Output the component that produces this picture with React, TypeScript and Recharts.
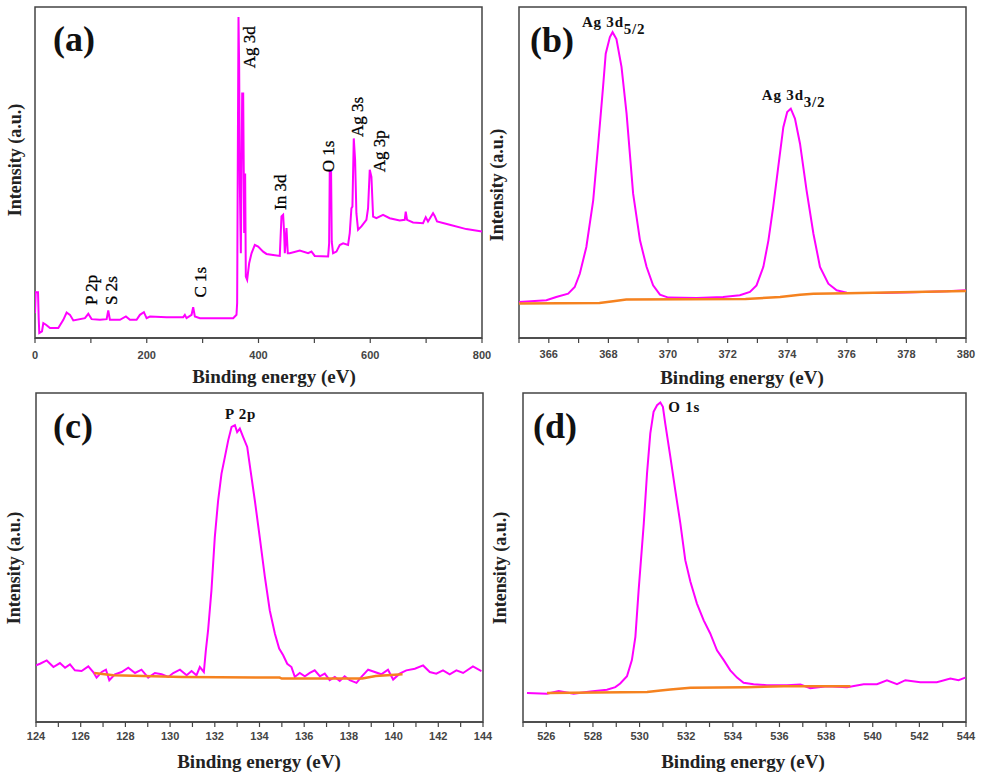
import React from 'react';
import { LineChart, Line, XAxis, YAxis, ReferenceArea, ReferenceDot } from 'recharts';

// ---------- (a) survey spectrum ----------
const surveyEnergy = [
  0, 1.2, 5.4, 6.6, 7.7, 12.5, 14.9, 19.7, 26.8, 41.7, 50.7, 56.6, 62.6, 68.6, 89.4, 95.4,
  101.3, 116.2, 128.2, 131.1, 134.1, 152.0, 162.7, 169.9, 181.8, 187.8, 194.9, 199.7, 205.7,
  235.5, 265.3, 268.2, 271.2, 280.2, 283.1, 286.1, 295.1, 354.7, 360.6, 361.8, 363.0, 364.2,
  365.4, 366.6, 368.4, 370.8, 372.6, 374.4, 376.1, 377.3, 379.7, 383.3, 387.5, 393.4, 399.4,
  408.3, 414.3, 426.2, 438.1, 441.1, 444.1, 445.9, 447.1, 450.1, 452.4, 456.0, 473.9, 488.8,
  494.8, 500.7, 524.6, 526.4, 527.5, 529.9, 531.1, 533.5, 539.5, 545.4, 551.4, 560.3, 563.3,
  566.3, 568.1, 570.5, 572.9, 575.2, 578.2, 584.2, 593.1, 596.1, 599.1, 602.1, 605.1, 611.0,
  622.9, 634.8, 652.7, 661.7, 663.5, 665.9, 676.6, 694.5, 699.3, 703.4, 712.4, 715.3, 719.5,
  742.2, 772.0, 800,
];
const surveyIntensity = [
  7.5, 13.8, 13.8, 6.0, 1.5, 2.0, 4.5, 4.0, 3.0, 3.0, 5.5, 7.7, 7.0, 5.3, 6.0, 7.3,
  5.7, 5.5, 5.7, 8.3, 5.5, 5.5, 6.5, 5.5, 5.5, 7.0, 7.8, 6.0, 6.5,
  6.3, 6.3, 7.0, 6.0, 7.0, 9.3, 6.5, 6.0, 6.0, 7.0, 10.6, 55.8, 97.0,
  81.9, 46.7, 25.6, 73.9, 73.9, 31.7, 49.7, 18.6, 17.6, 22.6, 25.6, 28.1, 27.6,
  26.1, 25.4, 25.1, 24.8, 36.7, 37.2, 31.7, 25.6, 33.2, 25.6, 25.6, 26.4, 25.6,
  26.1, 24.8, 24.6, 28.6, 50.3, 50.3, 29.1, 25.6, 26.1, 28.1, 28.6, 28.1, 31.7,
  39.2, 39.7, 60.3, 53.8, 37.7, 32.7, 33.7, 35.7, 39.2, 50.8, 48.7, 36.7, 36.2,
  37.2, 36.2, 35.5, 35.7, 38.2, 35.7, 34.9, 34.7, 36.5, 35.2, 37.7, 36.9, 35.2,
  34.2, 32.9, 32.2,
];
const surveyTicks = [0, 100, 200, 300, 400, 500, 600, 700, 800];
const surveyPeaks = [
  { name: 'P 2p', e: 111, v: 10.0 },
  { name: 'S 2s', e: 146.8, v: 10.0 },
  { name: 'C 1s', e: 306, v: 12.2 },
  { name: 'Ag 3d', e: 393.7, v: 81.5 },
  { name: 'In 3d', e: 449, v: 38.7 },
  { name: 'O 1s', e: 535, v: 50.1 },
  { name: 'Ag 3s', e: 587, v: 60.7 },
  { name: 'Ag 3p', e: 626, v: 50.1 },
];

// ---------- (b) Ag 3d ----------
const agEnergy = [
  365.0, 365.92, 366.25, 366.65, 366.87, 367.04, 367.26, 367.49, 367.65, 367.82, 367.91, 368.05,
  368.14, 368.27, 368.44, 368.61, 368.83, 369.06, 369.28, 369.5, 369.73, 370.01, 370.96, 371.85,
  372.41, 372.75, 372.97, 373.2, 373.37, 373.53, 373.7, 373.87, 374.0, 374.12, 374.26, 374.43,
  374.65, 374.88, 375.1, 375.38, 375.66, 376.0, 377.12, 378.24, 379.36, 380.0,
];
const agIntensity = [
  10.9, 11.4, 12.4, 13.4, 15.4, 19.4, 27.5, 41.6, 57.7, 75.8, 85.9, 90.9,
  92.4, 90.3, 81.9, 67.8, 43.6, 29.5, 21.5, 15.9, 13.1, 12.2, 12.1, 12.4,
  12.9, 13.9, 15.9, 21.5, 29.5, 39.6, 51.7, 63.7, 68.3, 69.3, 66.3, 58.7,
  44.6, 31.5, 21.5, 16.4, 14.4, 13.7, 13.6, 13.8, 14.1, 14.4,
];
const agBgEnergy = [365, 367.7, 368.16, 368.6, 372.6, 373.76, 374.43, 374.88, 376, 380];
const agBgIntensity = [10.4, 10.6, 11.1, 11.6, 11.8, 12.4, 13.1, 13.4, 13.5, 14.2];
const agTicks = [365, 366, 367, 368, 369, 370, 371, 372, 373, 374, 375, 376, 377, 378, 379, 380];

// ---------- (c) P 2p ----------
const pEnergy = [
  124.0, 124.18, 124.48, 124.78, 125.07, 125.3, 125.52, 125.74, 126.04, 126.34, 126.56, 126.71,
  126.94, 127.13, 127.28, 127.53, 127.83, 128.13, 128.43, 128.72, 129.02, 129.32, 129.62, 129.92,
  130.14, 130.44, 130.74, 130.96, 131.18, 131.33, 131.51, 131.6, 131.7, 131.85, 132.0, 132.15,
  132.3, 132.45, 132.6, 132.75, 132.9, 133.0, 133.12, 133.27, 133.45, 133.6, 133.79, 134.01,
  134.24, 134.46, 134.69, 134.88, 135.06, 135.24, 135.43, 135.58, 135.8, 136.03, 136.25, 136.47,
  136.7, 136.92, 137.14, 137.37, 137.59, 137.81, 138.04, 138.34, 138.56, 138.86, 139.16, 139.45,
  139.75, 139.98, 140.27, 140.57, 140.95, 141.32, 141.62, 141.91, 142.21, 142.51, 142.81, 143.11,
  143.55, 143.93,
];
const pIntensity = [
  17.2, 17.7, 18.7, 16.7, 17.9, 16.5, 17.5, 15.7, 15.5, 16.9, 15.2, 13.5,
  15.2, 15.9, 12.7, 14.5, 15.2, 16.5, 14.9, 15.9, 13.5, 14.9, 14.5, 13.7,
  14.9, 15.9, 14.2, 15.5, 14.2, 16.7, 15.2, 21.8, 27.9, 40.0, 56.2, 67.4,
  75.5, 80.5, 85.6, 89.7, 90.2, 88.1, 89.2, 86.6, 83.6, 76.4, 67.4, 56.2,
  44.1, 33.9, 26.8, 22.3, 20.3, 17.7, 16.7, 13.7, 14.9, 13.9, 14.9, 15.7,
  13.9, 14.7, 12.7, 13.7, 12.5, 13.9, 12.7, 11.9, 13.7, 15.9, 15.2, 14.5,
  15.9, 12.9, 14.7, 15.7, 16.2, 17.2, 15.2, 14.7, 15.7, 14.5, 15.7, 14.9,
  16.9, 15.5,
];
const pBgEnergy = [126.6, 127.46, 130.56, 134.9, 135.0, 138.6, 139.2, 140.4];
const pBgIntensity = [14.9, 14.2, 13.7, 13.5, 13.2, 13.2, 14.0, 14.5];
const pTicks = [124, 125, 126, 127, 128, 129, 130, 131, 132, 133, 134, 135, 136, 137, 138, 139, 140, 141, 142, 143, 144];

// ---------- (d) O 1s ----------
const oEnergy = [
  525.17, 526.03, 526.53, 527.17, 527.89, 528.6, 528.96, 529.17, 529.46, 529.67, 529.82, 529.96,
  530.18, 530.32, 530.46, 530.6, 530.75, 530.89, 531.0, 531.1, 531.32, 531.53, 531.75, 531.96,
  532.18, 532.46, 532.75, 533.03, 533.32, 533.61, 533.89, 534.18, 534.46, 534.89, 535.46, 536.32,
  536.9, 537.32, 538.04, 538.9, 539.61, 540.18, 540.61, 541.04, 541.4, 542.04, 542.75, 543.33,
  543.68, 543.97,
];
const oIntensity = [
  8.8, 8.6, 9.4, 8.6, 9.3, 9.8, 10.6, 11.7, 13.9, 18.8, 25.9, 40.1,
  60.3, 75.6, 87.7, 94.3, 96.3, 97.1, 95.8, 90.8, 80.6, 70.5, 60.3, 49.2,
  42.6, 36.0, 30.9, 26.9, 21.8, 18.8, 15.7, 13.5, 11.9, 11.5, 11.2, 11.2,
  11.4, 10.3, 10.9, 10.6, 11.5, 11.5, 12.7, 11.5, 12.7, 12.1, 12.1, 13.2,
  12.7, 13.5,
];
const oBgEnergy = [526.03, 530.32, 530.9, 531.32, 532.18, 534.6, 536.18, 539.04];
const oBgIntensity = [8.8, 9.1, 9.6, 9.9, 10.4, 10.6, 10.9, 10.9];
const oTicks = [525, 526, 527, 528, 529, 530, 531, 532, 533, 534, 535, 536, 537, 538, 539, 540, 541, 542, 543, 544];

const zip = (xs: number[], ys: number[]) => xs.map((e, i) => ({ e, v: ys[i] }));

const SPECTRUM = '#ff00ff';
const BASELINE = '#f5821f';
const FRAME = '#444';
const SERIF = '"Liberation Serif", "Times New Roman", serif';
const SANS = '"Liberation Sans", Arial, sans-serif';

const tickStyle = { fontSize: 11, fill: '#444', fontFamily: SANS, fontWeight: 'bold' as const };

// vertical peak tag, reading bottom to top from the anchor point
const VerticalTag = (props: any) => {
  const { viewBox, text } = props;
  if (!viewBox) return null;
  return (
    <text
      transform={`translate(${viewBox.x},${viewBox.y}) rotate(-90)`}
      fontFamily={SERIF}
      fontSize={17}
      fill="#000"
      stroke="#000"
      strokeWidth={0.3}
      textAnchor="start"
    >
      {text}
    </text>
  );
};

// horizontal tag with optional subscript
const PeakTag = (props: any) => {
  const { viewBox, text, sub } = props;
  if (!viewBox) return null;
  return (
    <text
      x={viewBox.x}
      y={viewBox.y}
      fontFamily={SERIF}
      fontSize={15}
      fontWeight="bold"
      fill="#111"
      letterSpacing={0.8}
    >
      {text}
      {sub ? (
        <tspan fontSize={15} dy={7}>
          {sub}
        </tspan>
      ) : null}
    </text>
  );
};

type PanelProps = {
  left: number;
  top: number;
  width: number;
  height: number;
  margin: { top: number; right: number; bottom: number; left: number };
  domain: [number, number];
  ticks: number[];
  showLabel: (v: number) => boolean;
  tickMargin: number;
  spectrum: { e: number; v: number }[];
  baseline?: { e: number; v: number }[];
  children?: React.ReactNode;
};

const Panel = (p: PanelProps) => (
  <div style={{ position: 'absolute', left: p.left, top: p.top }}>
    <LineChart width={p.width} height={p.height} margin={p.margin}>
      <XAxis
        dataKey="e"
        type="number"
        domain={p.domain}
        ticks={p.ticks}
        interval={0}
        allowDataOverflow
        height={40}
        tickSize={5}
        tickMargin={p.tickMargin}
        tickFormatter={(v: number) => (p.showLabel(v) ? String(v) : '')}
        tick={tickStyle}
        axisLine={{ stroke: FRAME, strokeWidth: 1.5 }}
        tickLine={{ stroke: FRAME, strokeWidth: 1.2 }}
      />
      <YAxis type="number" domain={[0, 100]} hide allowDataOverflow />
      <ReferenceArea
        x1={p.domain[0]}
        x2={p.domain[1]}
        y1={0}
        y2={100}
        fill="none"
        fillOpacity={0}
        stroke={FRAME}
        strokeWidth={1.5}
        strokeOpacity={1}
        ifOverflow="visible"
      />
      <Line
        data={p.spectrum}
        dataKey="v"
        type="linear"
        stroke={SPECTRUM}
        strokeWidth={2}
        dot={false}
        isAnimationActive={false}
      />
      {p.baseline ? (
        <Line
          data={p.baseline}
          dataKey="v"
          type="linear"
          stroke={BASELINE}
          strokeWidth={2.5}
          dot={false}
          isAnimationActive={false}
        />
      ) : null}
      {p.children}
    </LineChart>
  </div>
);

const xTitleStyle = {
  fontFamily: SERIF,
  fontSize: 19,
  fontWeight: 'bold' as const,
  fill: '#222',
};
const yTitleStyle = {
  fontFamily: SERIF,
  fontSize: 18,
  fontWeight: 'bold' as const,
  fill: '#222',
};
const letterStyle = {
  fontFamily: SERIF,
  fontSize: 36,
  fontWeight: 'bold' as const,
  fill: '#111',
};

export default function App() {
  return (
    <div
      style={{
        position: 'absolute',
        left: 0,
        top: 0,
        width: 981,
        height: 779,
        background: '#fff',
        overflow: 'hidden',
      }}
    >
      <Panel
        left={0}
        top={0}
        width={500}
        height={390}
        margin={{ top: 7, right: 18, bottom: 12, left: 35 }}
        domain={[0, 800]}
        ticks={surveyTicks}
        showLabel={(v) => v % 200 === 0}
        tickMargin={8}
        spectrum={zip(surveyEnergy, surveyIntensity)}
      >
        {surveyPeaks.map((pk) => (
          <ReferenceDot
            key={pk.name}
            x={pk.e}
            y={pk.v}
            r={0}
            fill="none"
            stroke="none"
            label={<VerticalTag text={pk.name} />}
          />
        ))}
      </Panel>

      <Panel
        left={0}
        top={390}
        width={500}
        height={389}
        margin={{ top: 3, right: 17, bottom: 17, left: 36 }}
        domain={[124, 144]}
        ticks={pTicks}
        showLabel={(v) => v % 2 === 0}
        tickMargin={5}
        spectrum={zip(pEnergy, pIntensity)}
        baseline={zip(pBgEnergy, pBgIntensity)}
      >
        <ReferenceDot x={132.46} y={92.1} r={0} fill="none" stroke="none" label={<PeakTag text="P 2p" />} />
      </Panel>

      <Panel
        left={490}
        top={0}
        width={491}
        height={390}
        margin={{ top: 7, right: 15, bottom: 12, left: 29 }}
        domain={[365, 380]}
        ticks={agTicks}
        showLabel={(v) => v % 2 === 0}
        tickMargin={7}
        spectrum={zip(agEnergy, agIntensity)}
        baseline={zip(agBgEnergy, agBgIntensity)}
      >
        <ReferenceDot x={367.11} y={93.9} r={0} fill="none" stroke="none" label={<PeakTag text="Ag 3d" sub="5/2" />} />
        <ReferenceDot x={373.15} y={71.8} r={0} fill="none" stroke="none" label={<PeakTag text="Ag 3d" sub="3/2" />} />
      </Panel>

      <Panel
        left={490}
        top={390}
        width={491}
        height={389}
        margin={{ top: 3, right: 15, bottom: 17, left: 33 }}
        domain={[525, 544]}
        ticks={oTicks}
        showLabel={(v) => v % 2 === 0}
        tickMargin={5}
        spectrum={zip(oEnergy, oIntensity)}
        baseline={zip(oBgEnergy, oBgIntensity)}
      >
        <ReferenceDot x={531.23} y={94.2} r={0} fill="none" stroke="none" label={<PeakTag text="O 1s" />} />
      </Panel>

      <svg
        width={981}
        height={779}
        style={{ position: 'absolute', left: 0, top: 0, pointerEvents: 'none' }}
      >
        {/* panel letters */}
        <text x={53} y={51} {...letterStyle}>(a)</text>
        <text x={530} y={52} {...letterStyle}>(b)</text>
        <text x={53} y={438} {...letterStyle}>(c)</text>
        <text x={533} y={438} {...letterStyle}>(d)</text>

        {/* x-axis titles */}
        <text x={274} y={383} textAnchor="middle" {...xTitleStyle}>Binding energy (eV)</text>
        <text x={742} y={384} textAnchor="middle" {...xTitleStyle}>Binding energy (eV)</text>
        <text x={259} y={768} textAnchor="middle" {...xTitleStyle}>Binding energy (eV)</text>
        <text x={743} y={768} textAnchor="middle" {...xTitleStyle}>Binding energy (eV)</text>

        {/* y-axis titles */}
        <text transform="translate(21,160) rotate(-90)" textAnchor="middle" {...yTitleStyle}>Intensity (a.u.)</text>
        <text transform="translate(503,185) rotate(-90)" textAnchor="middle" {...yTitleStyle}>Intensity (a.u.)</text>
        <text transform="translate(20,568) rotate(-90)" textAnchor="middle" {...yTitleStyle}>Intensity (a.u.)</text>
        <text transform="translate(506,568) rotate(-90)" textAnchor="middle" {...yTitleStyle}>Intensity (a.u.)</text>
      </svg>
    </div>
  );
}
